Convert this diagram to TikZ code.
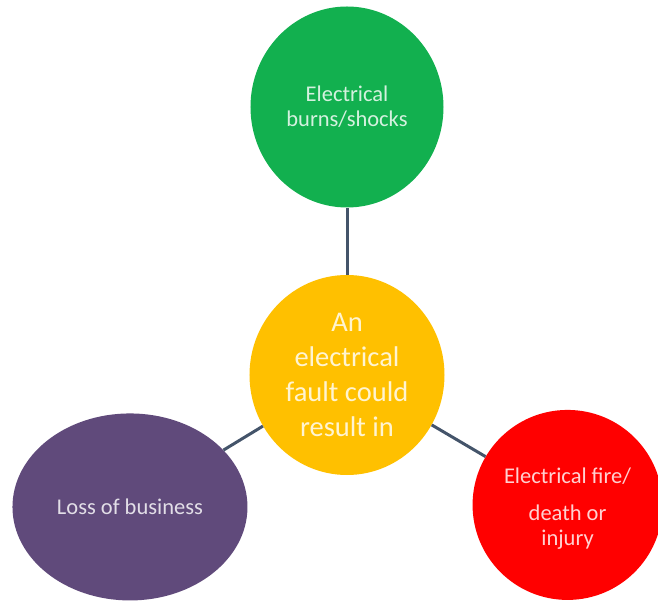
\documentclass[tikz,border=0pt]{standalone}
\usepackage{fontspec}
\setmainfont{Carlito}
\usetikzlibrary{shapes.geometric}
\definecolor{bgreen}{HTML}{12B04F}
\definecolor{byellow}{HTML}{FFC000}
\definecolor{bred}{HTML}{FF0000}
\definecolor{bpurple}{HTML}{604A7B}
\definecolor{blink}{HTML}{44546A}
\tikzset{
  bubble/.style={ellipse, inner sep=0pt, align=center, fill=#1, text=#1!18!white},
  small/.style={font=\fontsize{22.5}{25}\selectfont},
}
\begin{document}
\begin{tikzpicture}[x=1pt,y=1pt]
      \useasboundingbox (-347,-232) rectangle (311,375);
      \draw
        (0,0) node[bubble=byellow, minimum width=195pt, minimum height=200pt,
          font=\fontsize{28.5}{35}\selectfont] (fault){An\\electrical\\fault could\\result in}
        (90:268) node[bubble=bgreen, small, minimum width=193pt, minimum height=201pt] (burns){Electrical\\burns/shocks}
        (211.3:254) node[bubble=bpurple, small, minimum width=235pt, minimum height=187pt] (loss){Loss of business}
        (-30.5:256) node[bubble=bred, small, minimum width=190pt, minimum height=190pt] (fire){\rule{0pt}{24pt}Electrical fire/\\[12pt]death or\\injury};
      \begin{scope}[-, blink, line width=3pt]
        \draw (fault) to (burns);
        \draw (fault) to (loss);
        \draw (fault) to (fire);
      \end{scope}
    \end{tikzpicture}
\end{document}
